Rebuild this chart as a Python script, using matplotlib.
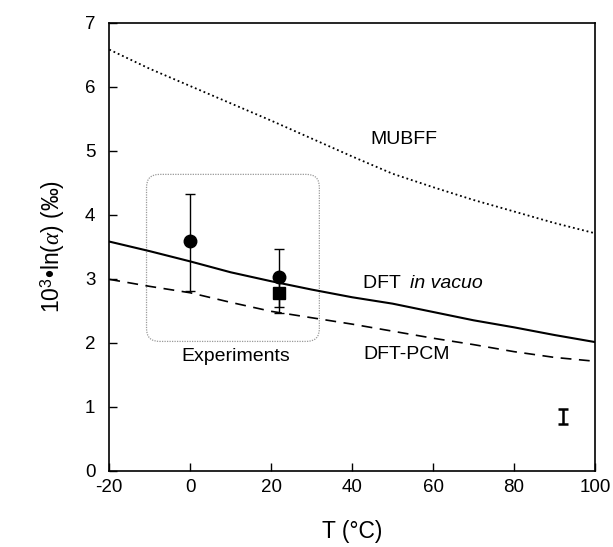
#!/usr/bin/env python3
# -*- coding: utf-8 -*-

import matplotlib
matplotlib.use("Agg")
import matplotlib.pyplot as plt
from matplotlib.patches import FancyBboxPatch

plt.rcParams['font.family'] = ['Liberation Sans', 'DejaVu Sans']
plt.rcParams['mathtext.fontset'] = 'custom'
plt.rcParams['mathtext.rm'] = 'Liberation Sans'
plt.rcParams['mathtext.it'] = 'Liberation Serif:italic'
plt.rcParams['axes.unicode_minus'] = False

# temperature grid (°C) and model curves
T = [-20, -10, 0, 10, 20, 30, 40, 50, 60, 70, 80, 90, 100]
mubff = [6.58, 6.28, 6.01, 5.74, 5.47, 5.19, 4.91, 4.64, 4.43, 4.23, 4.05, 3.87, 3.71]
dft_vacuo = [3.58, 3.43, 3.27, 3.10, 2.96, 2.83, 2.71, 2.61, 2.48, 2.35, 2.24, 2.12, 2.01]
dft_pcm = [2.99, 2.88, 2.78, 2.63, 2.49, 2.39, 2.29, 2.18, 2.07, 1.97, 1.86, 1.77, 1.71]

# experiments
exp_circ_T = [0, 22]
exp_circ_y = [3.59, 3.02]
exp_circ_lo = [0.78, 0.46]
exp_circ_hi = [0.74, 0.45]
exp_sq_T = [22]
exp_sq_y = [2.77]
exp_sq_err = [0.31]

# typical uncertainty bar (lower right)
bar_T = [92]
bar_y = [0.845]
bar_err = [0.115]

fig = plt.figure(figsize=(6.13, 5.47), dpi=100)
ax = fig.add_axes([0.1783, 0.1395, 0.7923, 0.819])

ax.plot(T, mubff, color='black', lw=1.3, linestyle=(0, (1, 1.6)))
ax.plot(T, dft_vacuo, color='black', lw=1.5)
ax.plot(T, dft_pcm, color='black', lw=1.2, linestyle=(0, (6.5, 4.5)))

ax.errorbar(exp_circ_T, exp_circ_y, yerr=[exp_circ_lo, exp_circ_hi], fmt='o',
            color='black', ms=9, elinewidth=1, capsize=3.5, capthick=1, zorder=5)
ax.errorbar(exp_sq_T, exp_sq_y, yerr=exp_sq_err, fmt='s', color='black',
            ms=8.5, elinewidth=1, capsize=3.5, capthick=1, zorder=5)
ax.errorbar(bar_T, bar_y, yerr=bar_err, fmt='none', ecolor='black',
            elinewidth=1.8, capsize=3.5, capthick=1.8)

# rounded dotted box around the experiments
box = FancyBboxPatch((-10.8, 2.02), 42.7, 2.61,
                     boxstyle='round,pad=0,rounding_size=3.2',
                     mutation_aspect=0.0625,
                     fill=False, edgecolor='#999999', lw=0.9,
                     linestyle=(0, (1, 1)))
ax.add_patch(box)

ax.text(52.8, 5.17, 'MUBFF', fontsize=14, ha='center', va='center')
ax.text(42.7, 2.93, 'DFT ', fontsize=14, ha='left', va='center')
t = ax.text(42.7, 2.93, 'DFT ', fontsize=14, ha='left', va='center', alpha=0)
fig.canvas.draw()
bb = t.get_window_extent().transformed(ax.transData.inverted())
ax.text(bb.x1, 2.93, 'in vacuo', fontsize=14, ha='left', va='center',
        fontstyle='italic')
ax.text(42.7, 1.82, 'DFT-PCM', fontsize=14, ha='left', va='center')
ax.text(11.2, 1.78, 'Experiments', fontsize=14, ha='center', va='center')

ax.set_xlim(-20, 100)
ax.set_ylim(0, 7)
ax.set_xticks([-20, 0, 20, 40, 60, 80, 100])
ax.set_yticks(range(0, 8))
ax.tick_params(direction='in', length=6, width=1, labelsize=13.5,
               top=False, right=False)
ax.tick_params(axis='y', pad=10)
ax.tick_params(axis='x', pad=6)
for s in ax.spines.values():
    s.set_linewidth(1.2)

ax.set_xlabel('T (°C)', fontsize=16.5, labelpad=17)
ax.set_ylabel('10$^3$•ln($\\alpha$) (‰)', fontsize=16.5, labelpad=13)

fig.savefig('out.png', dpi=100)
